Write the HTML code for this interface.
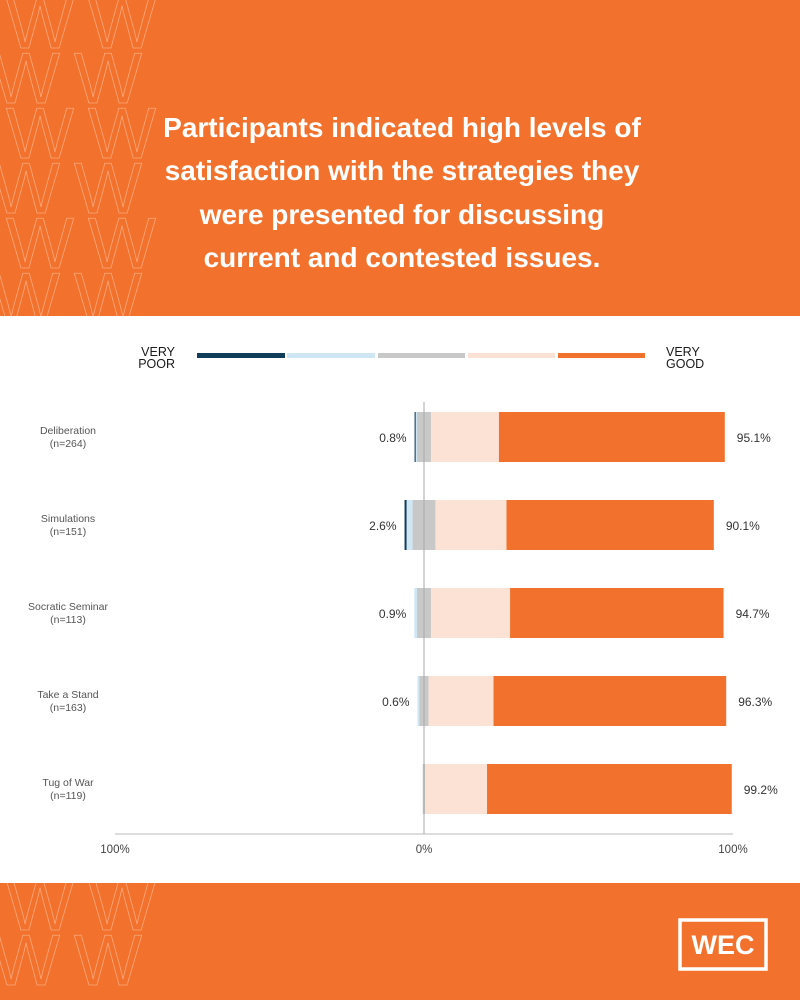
<!DOCTYPE html>
<html><head><meta charset="utf-8"><style>
body{margin:0;width:800px;height:1000px;overflow:hidden;background:#fff;font-family:"Liberation Sans",sans-serif}
</style></head><body>
<svg width="800" height="1000" xmlns="http://www.w3.org/2000/svg" style="display:block">
<defs>
<clipPath id="hc"><rect x="0" y="0" width="800" height="316"/></clipPath>
<clipPath id="fc"><rect x="0" y="883" width="800" height="117"/></clipPath>
</defs>
<rect x="0" y="0" width="800" height="316" fill="#F2722D"/>
<rect x="0" y="883" width="800" height="117" fill="#F2722D"/>
<g id="patH" clip-path="url(#hc)" fill="none" stroke="#F8A77A" stroke-width="0.8" font-family="Liberation Sans" font-size="72"></g>
<g id="patF" clip-path="url(#fc)" fill="none" stroke="#F8A77A" stroke-width="0.8" font-family="Liberation Sans" font-size="72"></g>
<g fill="#fff" font-size="28" font-weight="bold" text-anchor="middle">
<text x="402" y="137">Participants indicated high levels of</text>
<text x="402" y="180">satisfaction with the strategies they</text>
<text x="402" y="224">were presented for discussing</text>
<text x="402" y="267">current and contested issues.</text>
</g>
<g font-size="12.5" fill="#1a1a1a">
<text x="175" y="356" text-anchor="end">VERY</text><text x="175" y="368" text-anchor="end">POOR</text>
<text x="666" y="356">VERY</text><text x="666" y="368">GOOD</text>
<rect x="197" y="353" width="88" height="5" fill="#0F3D5A"/>
<rect x="287" y="353" width="88" height="5" fill="#CFE7F5"/>
<rect x="378" y="353" width="87" height="5" fill="#C8C8C8"/>
<rect x="468" y="353" width="87" height="5" fill="#FCE1D5"/>
<rect x="558" y="353" width="87" height="5" fill="#F2722D"/>
</g>
<g id="chart"></g>
<g>
<rect x="680" y="920" width="86" height="49" fill="none" stroke="#fff" stroke-width="3.5"/>
<text x="723" y="954" text-anchor="middle" fill="#fff" font-size="27" font-weight="bold">WEC</text>
</g>
</svg>
<script>
const categories=["Deliberation","Simulations","Socratic Seminar","Take a Stand","Tug of War"];
const sampleSizes=[264,151,113,163,119];
const veryPoor=[0.4,0.7,0,0,0];
const poor=[0.4,1.9,0.9,0.6,0];
const neutral=[4.5,7.4,4.5,3.0,0.8];
const good=[22,23,25.6,21,20];
const veryGood=[73.1,67.1,69.1,75.3,79.2];
const leftLabels=["0.8%","2.6%","0.9%","0.6%",""];
const rightLabels=["95.1%","90.1%","94.7%","96.3%","99.2%"];
const ticks=[-100,0,100];
const tickLabels=["100%","0%","100%"];
const NS="http://www.w3.org/2000/svg";
const x0=424,scale=3.09;
const xs=v=>x0+v*scale;
const rowY=i=>412+i*88;
const chart=document.getElementById('chart');
function mk(tag,attrs,parent){const e=document.createElementNS(NS,tag);for(const k in attrs)e.setAttribute(k,attrs[k]);(parent||chart).appendChild(e);return e;}
const colors=["#0F3D5A","#CFE7F5","#C8C8C8","#FCE1D5","#F2722D"];
categories.forEach((c,i)=>{
  const y=rowY(i);
  const g=mk('g',{});
  
  
  let start=-(veryPoor[i]+poor[i]+neutral[i]/2);
  const segs=[veryPoor[i],poor[i],neutral[i],good[i],veryGood[i]];
  const names=['very-poor','poor','neutral','good','very-good'];
  segs.forEach((v,k)=>{
    if(v>0){const r=mk('rect',{x:xs(start),y:y,width:v*scale,height:50,fill:colors[k]},g);
    
    }
    start+=v;
  });
  const lx=xs(-(veryPoor[i]+poor[i]+neutral[i]/2));
  if(leftLabels[i]){const t=mk('text',{x:lx-8,y:y+30,'text-anchor':'end','font-size':12,fill:'#333'},g);t.textContent=leftLabels[i];
  }
  const t2=mk('text',{x:xs(start)+12,y:y+30,'font-size':12,fill:'#333'},g);t2.textContent=rightLabels[i];
  
  const cl=mk('text',{x:68,y:y+22,'text-anchor':'middle','font-size':10.5,fill:'#555'},g);cl.textContent=c;
  
  const cn=mk('text',{x:68,y:y+35,'text-anchor':'middle','font-size':10.5,fill:'#555'},g);cn.textContent='(n='+sampleSizes[i]+')';
  
});
const zl=mk('line',{x1:x0,x2:x0,y1:402,y2:834,stroke:'#aaa','stroke-width':1});

const ax=mk('line',{x1:xs(-100),x2:xs(100),y1:834,y2:834,stroke:'#bbb','stroke-width':1});

ticks.forEach((t,i)=>{const e=mk('text',{x:xs(t),y:853,'text-anchor':'middle','font-size':11.5,fill:'#444'});e.textContent=tickLabels[i];
});
const patH=document.getElementById('patH'),patF=document.getElementById('patF');
for(let r=0;r<6;r++){const t=mk('text',{x:(r%2?-8:6),y:48+r*55,'textLength':150},patH);t.textContent='WW';}
for(let r=0;r<2;r++){const t=mk('text',{x:(r%2?-8:6),y:930+r*55,'textLength':150},patF);t.textContent='WW';}
</script>
</body></html>
